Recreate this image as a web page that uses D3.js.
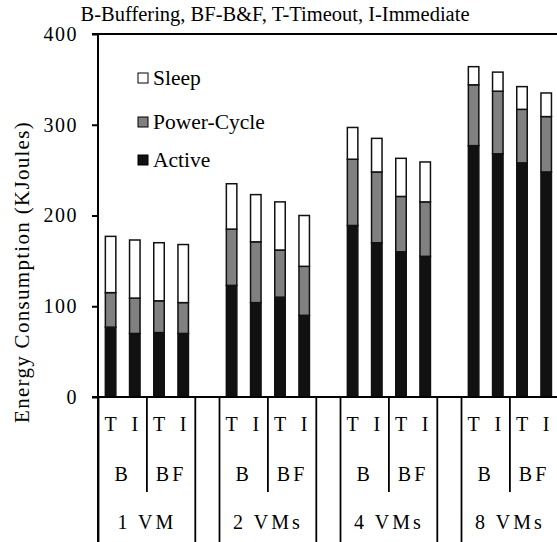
<!DOCTYPE html>
<html><head><meta charset="utf-8">
<script src="https://cdn.jsdelivr.net/npm/d3@7"></script>
<style>
html,body{margin:0;padding:0;background:#fff;}
svg text{font-family:'Liberation Serif','DejaVu Serif',serif !important;fill:#000;}
</style></head>
<body><svg id="chart" width="557" height="542"></svg>
<script>
// ---- data ----
const groups = ["1 VM", "2 VMs", "4 VMs", "8 VMs"];
const methods = ["B", "BF"];
const modes = ["T", "I"];
const seriesKeys = ["Active", "Power-Cycle", "Sleep"];
const active =     [77, 70, 71, 70,   123, 104, 110, 90,   189, 170, 160, 155,   277, 268, 258, 248];
const powerCycle = [38, 39, 35, 34,    62,  67,  52, 54,    73,  78,  61,  60,    67,  69,  59,  61];
const sleep =      [62, 64, 64, 64,    50,  52,  53, 56,    35,  37,  42,  44,    20,  21,  25,  26];
const yTicks = [0, 100, 200, 300, 400];
const titleText = "B-Buffering, BF-B&F, T-Timeout, I-Immediate";
const yLabel = "Energy Consumption (KJoules)";

const FONT = "'Liberation Serif', 'DejaVu Serif', serif";

// ---- build rows ----
const rows = [];
groups.forEach((g, gi) => {
  methods.forEach((m, mi) => {
    modes.forEach((t, ti) => {
      const i = gi * 4 + mi * 2 + ti;
      rows.push({group: g, method: m, mode: t, slot: String(mi * 2 + ti),
        "Active": active[i], "Power-Cycle": powerCycle[i], "Sleep": sleep[i]});
    });
  });
});

const svg = d3.select("#chart").attr("font-family", FONT);
svg.append("rect").attr("width", 557).attr("height", 542).attr("fill", "#fff");

const axisX = 98, plotTop = 34, base = 397, plotBottom = 542;
const y = d3.scaleLinear().domain([0, 400]).range([base, plotTop]);
const x0 = d3.scaleBand().domain(groups).range([98.5, 98.5 + 4 * 121]).padding(0);
const x1 = d3.scaleBand().domain(["0", "1", "2", "3", "4"]).range([0, x0.bandwidth()]).padding(0);
const barW = 10.5;
const colors = {"Active": "#111111", "Power-Cycle": "#808080", "Sleep": "#ffffff"};

const stack = d3.stack().keys(seriesKeys)(rows);

// bars
svg.append("g").selectAll("g").data(stack).join("g")
  .attr("fill", d => colors[d.key])
  .selectAll("rect").data(d => d).join("rect")
  .attr("x", d => x0(d.data.group) + x1(d.data.slot) + (x1.bandwidth() - barW) / 2)
  .attr("y", d => y(d[1]))
  .attr("width", barW)
  .attr("height", d => y(d[0]) - y(d[1]))
  .attr("stroke", "#111").attr("stroke-width", 1.5);

// y axis
const yAxis = d3.axisLeft(y).tickValues(yTicks).tickSize(6).tickPadding(14).tickFormat(d3.format("d"));
const ga = svg.append("g").attr("transform", `translate(${axisX},0)`).call(yAxis);
ga.attr("font-family", FONT);
ga.select(".domain").remove();
ga.selectAll(".tick line").attr("stroke", "#000").attr("stroke-width", 2);
ga.selectAll(".tick text").attr("font-size", 20).attr("letter-spacing", 1.5).attr("fill", "#000");

// frame lines
svg.append("line").attr("x1", axisX).attr("x2", axisX).attr("y1", plotTop - 1).attr("y2", plotBottom)
  .attr("stroke", "#000").attr("stroke-width", 2);
svg.append("line").attr("x1", axisX - 6).attr("x2", 557).attr("y1", plotTop).attr("y2", plotTop)
  .attr("stroke", "#000").attr("stroke-width", 2);
svg.append("line").attr("x1", axisX - 6).attr("x2", 557).attr("y1", base).attr("y2", base)
  .attr("stroke", "#000").attr("stroke-width", 2);

// category table
const tbl = svg.append("g");
groups.forEach(g => {
  const gx = x0(g);
  [gx + x1("0"), gx + x1("4")].forEach(xx => {
    tbl.append("line").attr("x1", xx).attr("x2", xx).attr("y1", base).attr("y2", plotBottom)
      .attr("stroke", "#000").attr("stroke-width", 1.8);
  });
  tbl.append("line").attr("x1", gx + x1("2")).attr("x2", gx + x1("2")).attr("y1", base).attr("y2", 492)
    .attr("stroke", "#000").attr("stroke-width", 1.8);
  tbl.append("text").attr("x", gx + x1("4") / 2).attr("y", 529).attr("text-anchor", "middle")
    .attr("font-size", 20).attr("letter-spacing", 3).text(g.replace(" ", "  "));
});
rows.forEach(r => {
  tbl.append("text").attr("x", x0(r.group) + x1(r.slot) + x1.bandwidth() / 2).attr("y", 431)
    .attr("text-anchor", "middle").attr("font-size", 20).text(r.mode);
});
groups.forEach(g => {
  methods.forEach((m, mi) => {
    const cx = x0(g) + x1(String(mi * 2)) + x1.bandwidth();
    tbl.append("text").attr("x", cx).attr("y", 481).attr("text-anchor", "middle")
      .attr("font-size", 20).attr("letter-spacing", 3).text(m);
  });
});

// title
svg.append("text").attr("x", 275).attr("y", 21).attr("text-anchor", "middle")
  .attr("font-size", 20.5).text(titleText);

// y label
svg.append("text").attr("transform", "translate(22,272) rotate(-90)")
  .attr("text-anchor", "middle").attr("dominant-baseline", "central")
  .attr("font-size", 21).attr("letter-spacing", 1.3).text(yLabel);

// legend
const legend = svg.append("g");
const legendOrder = ["Sleep", "Power-Cycle", "Active"];
const legendY = [78, 122, 160];
legendOrder.forEach((k, i) => {
  legend.append("rect").attr("x", 138).attr("y", legendY[i] - 5).attr("width", 10).attr("height", 10)
    .attr("fill", colors[k]).attr("stroke", "#000").attr("stroke-width", 1);
  legend.append("text").attr("x", 153).attr("y", legendY[i]).attr("dominant-baseline", "central")
    .attr("font-size", 21.5).text(k);
});
</script></body></html>
